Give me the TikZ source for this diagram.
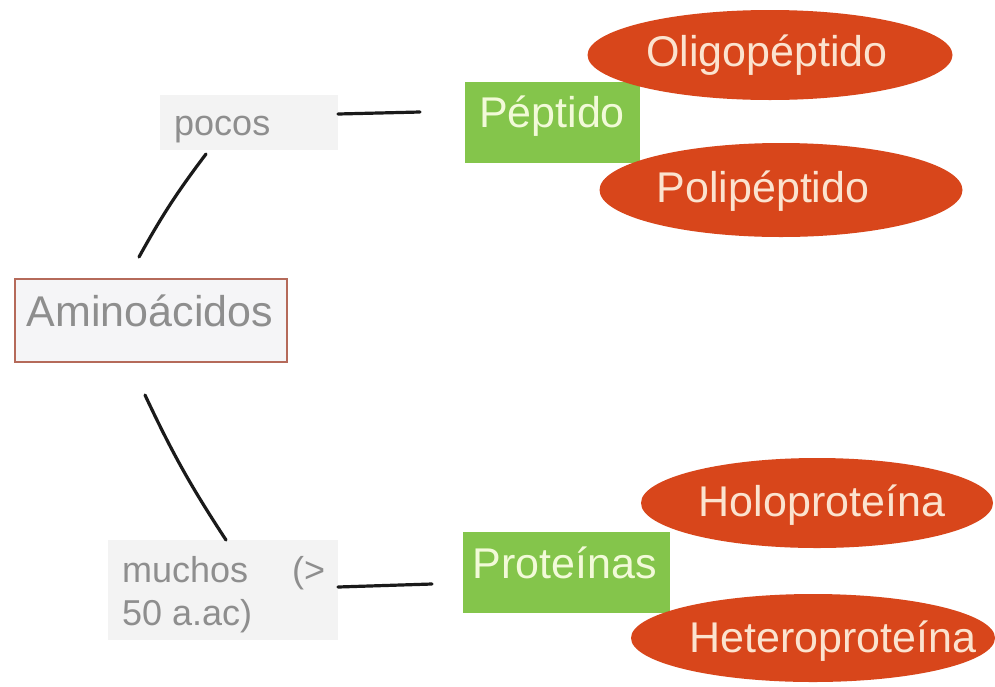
\documentclass[tikz,border=0pt]{standalone}
\usepackage{fontspec}
\setmainfont{Liberation Sans}
\usetikzlibrary{shapes.geometric}
\definecolor{grn}{HTML}{84C54B}
\definecolor{orng}{HTML}{D8461B}
\definecolor{cream}{HTML}{FBE3CF}
\definecolor{grntxt}{HTML}{F2FAD8}
\definecolor{lbltxt}{HTML}{8E8E8E}
\definecolor{lblfill}{HTML}{F3F3F3}
\definecolor{amifill}{HTML}{F5F5F7}
\definecolor{amiborder}{HTML}{B56A5A}
\definecolor{linec}{HTML}{1A1A1A}
\begin{document}
\begin{tikzpicture}[x=1pt,y=-1pt,
  conn/.style={line width=3.2pt, draw=linec, line cap=round},
  lblbox/.style={rectangle, fill=lblfill, inner sep=0pt},
  amibox/.style={rectangle, fill=amifill, draw=amiborder, line width=1.2pt, inner sep=0pt},
  grnbox/.style={rectangle, fill=grn, inner sep=0pt},
  ellbox/.style={ellipse, fill=orng, inner sep=0pt},
  lbltext/.style={text=lbltxt, inner sep=0pt, font=\fontsize{36}{42}\selectfont},
  amitext/.style={text=lbltxt, inner sep=0pt, font=\fontsize{43}{50}\selectfont},
  grntext/.style={text=grntxt, inner sep=0pt, font=\fontsize{43}{50}\selectfont},
  elltext/.style={text=cream, inner sep=0pt, font=\fontsize{43}{50}\selectfont}
]
\fill[white] (0,0) rectangle (995,686);
\useasboundingbox (0,0) rectangle (995,686);

% boxes
\node[amibox, minimum width=272pt, minimum height=83pt] (ami) at (151,320.5) {};
\node[lblbox, minimum width=178pt, minimum height=55pt] (pocos) at (249,122.5) {};
\node[lblbox, minimum width=230pt, minimum height=100pt] (muchos) at (223,590) {};
\node[grnbox, minimum width=175pt, minimum height=81pt] (pept) at (552.5,122.5) {};
\node[grnbox, minimum width=207pt, minimum height=81pt] (prot) at (566.5,572.5) {};

% ellipses
\node[ellbox, minimum width=365pt, minimum height=90pt] (oligo) at (770,55) {};
\node[ellbox, minimum width=363pt, minimum height=94pt] (poli) at (781,190) {};
\node[ellbox, minimum width=352pt, minimum height=90pt] (holo) at (817,503) {};
\node[ellbox, minimum width=364pt, minimum height=88pt] (hetero) at (813,638) {};

% texts
\node[amitext, anchor=base] (amit) at (150,326) {Aminoácidos};
\node[lbltext, anchor=base west] (pocost) at (174,135) {pocos};
\node[lbltext, anchor=base west] (muchost) at (122,582) {muchos};
\node[lbltext, anchor=base west] (muchosp) at (292,582) {(>};
\node[lbltext, anchor=base west] (muchosb) at (122,625) {50 a.ac)};
\node[grntext, anchor=base] (peptt) at (552,127) {Péptido};
\node[grntext, anchor=base] (prott) at (565,578) {Proteínas};
\node[elltext, anchor=base] (oligot) at (767,66) {Oligopéptido};
\node[elltext, anchor=base] (polit) at (763,202) {Polipéptido};
\node[elltext, anchor=base] (holot) at (822,516) {Holoproteína};
\node[elltext, anchor=base] (heterot) at (833,652) {Heteroproteína};

% connector end points
\coordinate (c1) at (139,257);
\coordinate (c2) at (206,154);
\coordinate (c3) at (338,114);
\coordinate (c4) at (420,112);
\coordinate (c5) at (145,395);
\coordinate (c6) at (226,540);
\coordinate (c7) at (338,587);
\coordinate (c8) at (432,584);

\draw[conn] (c1) to[bend left=4] (c2);
\draw[conn] (c3) -- (c4);
\draw[conn] (c5) to[bend right=4] (c6);
\draw[conn] (c7) -- (c8);
\end{tikzpicture}
\end{document}
